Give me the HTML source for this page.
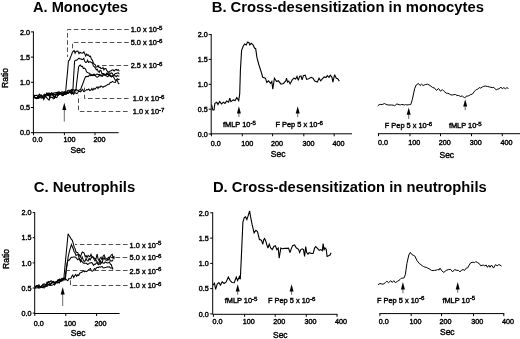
<!DOCTYPE html>
<html lang="en"><head><meta charset="utf-8"><title>Cross-desensitization figure</title>
<style>
html,body{margin:0;padding:0;background:#fff;}
body{width:520px;height:339px;overflow:hidden;font-family:"Liberation Sans",Arial,Helvetica,sans-serif;}
svg{display:block;}
</style></head><body>
<svg width="520" height="339" viewBox="0 0 520 339" font-family="Liberation Sans, Arial, Helvetica, sans-serif" fill="#000">
<text x="33.0" y="11.8" font-size="14.5" text-anchor="start" font-weight="bold" textLength="95" lengthAdjust="spacingAndGlyphs">A. Monocytes</text>
<line x1="33.4" y1="31.4" x2="33.4" y2="133.2" stroke="#000" stroke-width="1.0"/>
<line x1="30.9" y1="132.7" x2="33.4" y2="132.7" stroke="#000" stroke-width="1.0"/>
<text x="29.9" y="135.4" font-size="7.2" text-anchor="end" stroke="#000" stroke-width="0.4" >0.0</text>
<line x1="30.9" y1="107.5" x2="33.4" y2="107.5" stroke="#000" stroke-width="1.0"/>
<text x="29.9" y="110.2" font-size="7.2" text-anchor="end" stroke="#000" stroke-width="0.4" >0.5</text>
<line x1="30.9" y1="82.3" x2="33.4" y2="82.3" stroke="#000" stroke-width="1.0"/>
<text x="29.9" y="85.0" font-size="7.2" text-anchor="end" stroke="#000" stroke-width="0.4" >1.0</text>
<line x1="30.9" y1="57.1" x2="33.4" y2="57.1" stroke="#000" stroke-width="1.0"/>
<text x="29.9" y="59.8" font-size="7.2" text-anchor="end" stroke="#000" stroke-width="0.4" >1.5</text>
<line x1="30.9" y1="31.9" x2="33.4" y2="31.9" stroke="#000" stroke-width="1.0"/>
<text x="29.9" y="34.6" font-size="7.2" text-anchor="end" stroke="#000" stroke-width="0.4" >2.0</text>
<line x1="32.9" y1="132.7" x2="118.6" y2="132.7" stroke="#000" stroke-width="1.0"/>
<line x1="33.5" y1="132.7" x2="33.5" y2="135.2" stroke="#000" stroke-width="1.0"/>
<text x="37.4" y="142.0" font-size="7.2" text-anchor="middle" stroke="#000" stroke-width="0.4" >0.0</text>
<line x1="64.4" y1="132.7" x2="64.4" y2="135.2" stroke="#000" stroke-width="1.0"/>
<text x="69.5" y="142.0" font-size="7.2" text-anchor="middle" stroke="#000" stroke-width="0.4" >100</text>
<line x1="95.0" y1="132.7" x2="95.0" y2="135.2" stroke="#000" stroke-width="1.0"/>
<text x="99.6" y="142.0" font-size="7.2" text-anchor="middle" stroke="#000" stroke-width="0.4" >200</text>
<text x="77.9" y="152.9" font-size="8.5" text-anchor="middle" stroke="#000" stroke-width="0.4" >Sec</text>
<text transform="translate(8.4,78) rotate(-90)" font-size="8.5" text-anchor="middle" stroke="#000" stroke-width="0.4">Ratio</text>
<line x1="64.3" y1="109.6" x2="64.3" y2="121.6" stroke="#444" stroke-width="0.8"/>
<polygon points="64.3,102.7 62.3,110.1 66.3,110.1" fill="#000"/>
<polyline points="33.6,96.7 34.5,97.5 35.4,97.9 36.3,98.7 37.3,98.4 38.3,97.0 39.2,97.9 40.2,96.8 41.3,97.2 42.5,96.3 43.7,94.9 44.6,94.2 45.5,94.9 46.4,95.2 47.3,94.5 48.2,93.9 49.0,95.5 49.9,94.4 50.9,95.5 51.9,92.9 52.9,93.9 53.9,92.8 54.8,93.1 55.7,92.5 56.6,92.6 57.5,92.2 58.4,93.4 59.3,93.3 60.2,93.6 61.3,93.8 62.3,93.6 63.4,92.6 64.5,91.7 65.6,92.5 66.5,82.2 67.5,72.1 68.4,61.1 69.4,60.1 70.3,57.8 71.3,55.4 72.2,52.8 73.2,51.2 74.1,50.6 75.1,53.2 76.0,51.5 77.0,51.0 78.0,51.2 79.0,53.7 80.0,52.2 81.0,52.9 82.0,53.0 82.9,53.1 83.9,51.8 84.8,53.9 85.7,56.0 86.7,54.0 87.6,55.4 88.5,55.0 89.5,56.5 90.5,56.1 91.4,59.2 92.4,60.1 93.3,62.9 94.3,64.1 95.3,64.8 96.2,67.2 97.2,66.9 98.2,66.1 99.1,67.4 100.1,67.3 101.0,68.4 102.0,68.5 103.0,67.5 103.9,69.9 104.9,68.5 105.8,68.5 106.8,70.7 107.8,71.5 108.9,72.6 109.9,71.2 111.0,70.7 112.0,70.0 113.0,69.9 114.1,71.0 115.1,69.9 116.2,69.4 117.2,70.4 118.3,69.8 119.3,71.2" fill="none" stroke="#000" stroke-width="1.05" stroke-linejoin="miter" stroke-miterlimit="3"/>
<polyline points="33.6,95.6 34.7,95.3 35.9,95.4 37.0,95.2 37.9,97.0 38.8,96.8 39.6,97.3 40.5,97.8 41.5,98.1 42.5,97.2 43.5,98.0 44.6,96.3 45.7,95.0 46.8,93.1 47.9,95.5 49.0,95.4 50.1,97.8 51.2,97.5 52.2,97.2 53.3,98.9 54.2,98.4 55.1,97.4 56.0,94.6 56.9,94.4 57.8,94.9 58.7,94.7 59.7,92.4 60.6,93.6 61.5,93.9 62.4,93.1 63.4,94.4 64.5,92.3 65.6,92.6 66.7,92.4 67.8,90.6 68.9,90.1 69.9,90.9 70.9,90.0 71.8,89.5 72.8,91.2 73.7,75.8 74.6,61.1 75.7,60.2 76.8,60.2 77.9,59.1 79.0,58.2 80.0,59.0 80.9,58.9 81.9,59.6 82.8,59.2 83.8,58.4 84.7,61.3 85.7,62.4 86.6,62.3 87.6,60.2 88.6,62.4 89.5,61.8 90.5,61.8 91.4,62.7 92.4,62.7 93.4,66.2 94.3,66.6 95.3,67.8 96.3,69.7 97.2,69.3 98.2,71.5 99.2,72.4 100.1,70.3 101.1,70.8 102.0,73.8 103.0,73.6 104.0,73.7 105.0,74.9 106.1,73.9 107.1,72.8 108.1,73.8 109.1,74.5 110.1,73.6 111.2,72.9 112.2,73.2 113.2,74.9 114.2,75.0 115.2,73.5 116.2,73.4 117.3,73.0 118.3,72.8 119.3,74.3" fill="none" stroke="#000" stroke-width="1.05" stroke-linejoin="miter" stroke-miterlimit="3"/>
<polyline points="33.6,97.6 34.6,97.6 35.7,98.1 36.7,97.7 37.6,97.6 38.5,95.6 39.4,94.2 40.3,95.1 41.1,95.4 42.0,96.2 42.8,97.9 43.7,98.0 44.6,97.5 45.4,96.1 46.4,97.5 47.3,98.3 48.3,99.6 49.2,100.0 50.1,96.8 51.0,94.9 51.8,93.1 52.8,93.8 53.7,97.2 54.6,98.1 55.8,94.7 57.0,93.4 57.9,93.8 58.7,91.8 59.6,92.4 60.7,92.6 61.8,91.8 62.8,92.0 63.9,92.3 64.9,94.1 65.9,93.9 66.8,92.2 67.7,91.2 68.6,92.9 69.5,91.8 70.4,91.9 71.3,90.6 72.2,92.6 73.1,91.7 74.0,92.8 74.9,90.6 75.8,91.0 76.7,82.8 77.7,74.5 78.6,66.9 79.4,65.6 80.3,65.0 81.3,66.4 82.4,66.3 83.4,68.5 84.5,68.1 85.5,69.0 86.6,72.0 87.6,72.6 88.5,72.9 89.5,73.2 90.4,74.2 91.4,74.5 92.3,74.7 93.3,75.5 94.3,74.4 95.3,75.7 96.3,76.7 97.3,77.2 98.3,76.6 99.3,75.7 100.3,75.4 101.3,76.1 102.3,76.3 103.3,75.1 104.3,75.0 105.3,75.2 106.3,75.7 107.3,76.6 108.3,76.2 109.3,75.0 110.3,76.4 111.3,76.0 112.3,76.1 113.3,75.5 114.3,75.7 115.3,75.8 116.3,76.7 117.3,75.5 118.3,76.1 119.3,76.3" fill="none" stroke="#000" stroke-width="1.05" stroke-linejoin="miter" stroke-miterlimit="3"/>
<polyline points="33.6,97.6 34.5,97.0 35.5,98.0 36.4,98.5 37.4,98.0 38.3,98.3 39.2,96.1 40.2,95.9 41.0,96.0 41.9,96.4 42.8,97.4 43.7,99.5 44.9,97.3 46.1,94.2 47.1,93.1 48.0,93.7 49.0,92.9 50.0,93.6 51.1,93.3 52.3,94.0 53.4,94.8 54.6,96.6 55.7,97.3 56.8,97.6 58.0,95.1 59.1,94.0 60.2,93.8 61.1,92.7 62.1,94.6 63.1,94.1 64.2,94.5 65.4,94.1 66.5,92.3 67.5,93.4 68.6,93.3 69.6,92.2 70.6,93.0 71.5,92.2 72.5,90.3 73.6,89.6 74.7,90.5 75.8,89.5 76.7,89.7 77.7,90.4 78.6,90.2 79.6,89.8 80.5,89.9 81.5,87.0 82.6,84.3 83.6,81.5 84.7,78.4 85.7,76.5 86.7,76.6 87.6,76.4 88.5,76.5 89.5,74.8 90.5,75.6 91.5,75.3 92.5,75.7 93.5,74.3 94.5,75.3 95.5,75.0 96.5,74.2 97.5,74.0 98.5,74.9 99.5,74.4 100.5,74.9 101.5,75.5 102.5,75.1 103.5,74.3 104.5,75.0 105.5,74.6 106.5,74.5 107.5,74.4 108.5,74.8 109.5,74.2 110.5,75.6 111.5,77.0 112.5,75.8 113.5,77.0 114.4,78.6 115.4,80.4 116.4,79.9 117.4,80.7 118.3,83.1 119.3,84.0" fill="none" stroke="#000" stroke-width="1.05" stroke-linejoin="miter" stroke-miterlimit="3"/>
<polyline points="33.6,97.4 34.6,96.5 35.6,98.0 36.6,98.0 37.5,97.9 38.5,98.2 39.5,96.2 40.5,95.8 41.4,95.1 42.3,96.2 43.2,96.4 44.1,95.8 45.0,95.3 45.9,96.1 46.8,95.7 47.7,95.0 48.6,95.4 49.5,93.5 50.4,93.8 51.5,93.3 52.7,95.3 53.8,94.8 54.7,94.6 55.6,94.1 56.5,94.9 57.5,95.4 58.5,95.1 59.5,94.3 60.5,93.8 61.4,94.8 62.4,95.6 63.3,95.5 64.4,93.9 65.5,94.0 66.5,94.2 67.5,92.5 68.5,92.5 69.5,91.6 70.5,91.5 71.6,94.0 72.6,92.9 73.6,94.3 74.6,92.9 75.6,92.8 76.6,93.6 77.6,93.1 78.6,90.9 79.6,91.6 80.7,91.9 81.7,90.4 82.7,89.4 83.7,91.6 84.7,91.1 85.7,90.6 86.7,89.5 87.8,89.8 88.8,89.0 89.8,90.6 90.9,90.1 91.9,88.5 92.9,90.2 94.0,88.3 95.0,89.3 96.0,88.0 97.0,86.8 98.0,88.5 99.0,86.8 100.0,87.4 101.0,86.0 102.0,86.6 103.0,87.3 104.0,86.6 105.0,86.3 106.1,85.5 107.1,85.0 108.2,84.3 109.2,84.2 110.3,82.3 111.3,82.5 112.4,81.4 113.4,81.9 114.4,82.2 115.4,82.4 116.5,79.8 117.5,78.8 118.5,79.6 119.5,79.0" fill="none" stroke="#000" stroke-width="1.05" stroke-linejoin="miter" stroke-miterlimit="3"/>
<path d="M128.8 29.5 L67.5 29.5 L67.5 57.0" fill="none" stroke="#303030" stroke-width="0.85" stroke-dasharray="4.6 2.6"/>
<path d="M128.8 42.5 L72.5 42.5 L72.5 50.0" fill="none" stroke="#303030" stroke-width="0.85" stroke-dasharray="4.6 2.6"/>
<path d="M128.2 65.5 L97.0 65.5" fill="none" stroke="#303030" stroke-width="0.85" stroke-dasharray="4.6 2.6"/>
<path d="M128.6 98.5 L84.5 98.5 L84.5 85.5" fill="none" stroke="#303030" stroke-width="0.85" stroke-dasharray="4.6 2.6"/>
<path d="M127.6 111.5 L78.5 111.5 L78.5 95.5" fill="none" stroke="#303030" stroke-width="0.85" stroke-dasharray="4.6 2.6"/>
<text x="130.7" y="32.0" font-size="7.4" text-anchor="start" stroke="#000" stroke-width="0.4" >1.0 x 10<tspan dy="-2.2" font-size="6.1">-5</tspan></text>
<text x="130.7" y="45.2" font-size="7.4" text-anchor="start" stroke="#000" stroke-width="0.4" >5.0 x 10<tspan dy="-2.2" font-size="6.1">-6</tspan></text>
<text x="130.7" y="68.2" font-size="7.4" text-anchor="start" stroke="#000" stroke-width="0.4" >2.5 x 10<tspan dy="-2.2" font-size="6.1">-6</tspan></text>
<text x="132.8" y="100.9" font-size="7.4" text-anchor="start" stroke="#000" stroke-width="0.4" >1.0 x 10<tspan dy="-2.2" font-size="6.1">-6</tspan></text>
<text x="132.8" y="114.4" font-size="7.4" text-anchor="start" stroke="#000" stroke-width="0.4" >1.0 x 10<tspan dy="-2.2" font-size="6.1">-7</tspan></text>
<text x="33.7" y="192.0" font-size="14.5" text-anchor="start" font-weight="bold" textLength="101.5" lengthAdjust="spacingAndGlyphs">C. Neutrophils</text>
<line x1="34.7" y1="212.1" x2="34.7" y2="313.6" stroke="#000" stroke-width="1.0"/>
<line x1="32.7" y1="313.1" x2="34.7" y2="313.1" stroke="#000" stroke-width="1.0"/>
<text x="31.6" y="315.8" font-size="7.2" text-anchor="end" stroke="#000" stroke-width="0.4" >0.0</text>
<line x1="32.7" y1="288.0" x2="34.7" y2="288.0" stroke="#000" stroke-width="1.0"/>
<text x="31.6" y="290.7" font-size="7.2" text-anchor="end" stroke="#000" stroke-width="0.4" >0.5</text>
<line x1="32.7" y1="262.9" x2="34.7" y2="262.9" stroke="#000" stroke-width="1.0"/>
<text x="31.6" y="265.6" font-size="7.2" text-anchor="end" stroke="#000" stroke-width="0.4" >1.0</text>
<line x1="32.7" y1="237.7" x2="34.7" y2="237.7" stroke="#000" stroke-width="1.0"/>
<text x="31.6" y="240.4" font-size="7.2" text-anchor="end" stroke="#000" stroke-width="0.4" >1.5</text>
<line x1="32.7" y1="212.6" x2="34.7" y2="212.6" stroke="#000" stroke-width="1.0"/>
<text x="31.6" y="215.3" font-size="7.2" text-anchor="end" stroke="#000" stroke-width="0.4" >2.0</text>
<line x1="34.3" y1="313.5" x2="119.6" y2="313.5" stroke="#000" stroke-width="1.0"/>
<line x1="34.8" y1="313.5" x2="34.8" y2="316.0" stroke="#000" stroke-width="1.0"/>
<text x="38.7" y="325.5" font-size="7.2" text-anchor="middle" stroke="#000" stroke-width="0.4" >0.0</text>
<line x1="65.8" y1="313.5" x2="65.8" y2="316.0" stroke="#000" stroke-width="1.0"/>
<text x="69.9" y="325.5" font-size="7.2" text-anchor="middle" stroke="#000" stroke-width="0.4" >100</text>
<line x1="96.6" y1="313.5" x2="96.6" y2="316.0" stroke="#000" stroke-width="1.0"/>
<text x="100.4" y="325.5" font-size="7.2" text-anchor="middle" stroke="#000" stroke-width="0.4" >200</text>
<text x="78.2" y="335.7" font-size="8.5" text-anchor="middle" stroke="#000" stroke-width="0.4" >Sec</text>
<text transform="translate(9.2,259) rotate(-90)" font-size="8.5" text-anchor="middle" stroke="#000" stroke-width="0.4">Ratio</text>
<line x1="62.7" y1="293.9" x2="62.7" y2="306.0" stroke="#444" stroke-width="0.8"/>
<polygon points="62.7,287.0 60.7,294.4 64.7,294.4" fill="#000"/>
<polyline points="35.0,287.0 36.0,286.6 36.9,285.4 37.9,285.4 38.9,284.7 39.8,286.6 40.8,287.3 41.7,285.9 42.5,285.1 43.4,284.9 44.3,284.9 45.2,284.9 46.1,285.7 47.0,284.4 47.9,283.7 48.8,285.1 49.8,285.4 50.7,283.5 51.7,283.5 52.5,282.0 53.4,281.5 54.3,282.5 55.4,282.9 56.4,282.4 57.5,281.5 58.4,282.6 59.3,283.0 60.2,281.2 61.1,281.4 62.0,280.4 62.9,278.5 63.8,279.0 64.9,267.0 65.9,256.4 67.0,245.2 68.1,233.7 69.2,235.8 70.2,237.3 71.3,239.1 72.4,240.5 73.3,243.7 74.2,247.2 75.0,248.4 75.9,251.8 76.8,252.4 77.7,252.4 78.5,255.0 79.4,254.6 80.4,257.5 81.3,254.2 82.3,252.0 83.3,252.5 84.2,253.2 85.2,256.7 86.1,255.6 87.1,257.6 88.1,255.4 89.0,256.2 90.0,256.5 91.0,254.3 92.0,256.8 93.0,256.8 94.0,259.3 95.0,260.8 96.1,258.3 97.1,254.2 98.1,259.0 99.1,260.7 100.1,258.0 101.1,257.2 102.1,260.1 103.1,256.3 104.1,255.0 105.1,257.7 106.1,258.5 107.1,258.9 108.2,260.0 109.2,258.2 110.2,256.9 111.2,255.1 112.2,254.4 113.2,257.2" fill="none" stroke="#000" stroke-width="1.05" stroke-linejoin="miter" stroke-miterlimit="3"/>
<polyline points="35.0,288.6 36.1,286.6 37.3,285.7 38.4,286.6 39.3,286.1 40.2,287.1 41.1,286.8 42.1,285.3 43.1,284.3 44.1,283.8 45.1,284.5 46.0,284.2 47.0,282.2 47.9,282.6 48.9,281.5 49.9,282.0 51.0,280.6 52.1,281.4 53.2,281.7 54.2,282.0 55.3,282.5 56.2,281.8 57.2,283.0 58.1,280.7 59.1,281.1 60.0,279.1 61.0,280.7 61.9,279.5 62.9,279.0 63.8,278.1 64.8,278.8 65.7,272.8 66.5,267.2 67.4,262.1 68.3,256.0 69.3,251.9 70.4,247.9 71.4,244.6 72.3,246.7 73.2,248.8 74.1,251.8 75.0,252.7 76.0,255.4 77.1,254.8 78.1,254.7 79.1,258.0 80.2,260.4 81.2,259.2 82.2,257.1 83.2,259.8 84.2,261.5 85.2,260.9 86.1,258.4 87.1,260.7 88.1,261.1 89.1,258.4 90.1,259.9 91.1,258.1 92.1,256.6 93.1,257.6 94.1,258.0 95.1,258.5 96.0,260.1 97.0,261.7 98.0,262.9 99.0,263.5 100.0,259.8 101.0,263.3 102.0,262.7 103.0,259.6 104.1,257.8 105.1,259.7 106.1,259.9 107.1,260.7 108.1,257.7 109.1,257.1 110.2,261.1 111.2,260.7 112.2,261.0 113.2,259.5" fill="none" stroke="#000" stroke-width="1.05" stroke-linejoin="miter" stroke-miterlimit="3"/>
<polyline points="35.0,287.1 35.9,285.9 36.9,285.9 37.8,286.2 38.7,287.2 39.7,288.1 40.6,287.5 41.5,287.2 42.6,287.6 43.7,285.9 44.8,286.5 46.0,285.8 47.1,286.3 48.2,284.9 49.1,284.5 50.0,284.8 50.9,284.3 51.9,282.2 52.7,282.7 53.6,282.0 54.4,284.0 55.3,283.7 56.1,281.6 57.0,281.8 58.0,279.8 59.0,280.8 60.0,281.2 61.0,279.7 61.9,280.5 62.9,280.8 63.8,278.9 64.6,278.3 65.4,278.7 66.4,269.7 67.4,262.0 68.5,259.9 69.5,259.9 70.6,258.0 71.6,257.3 72.6,257.2 73.6,257.0 74.7,257.1 75.7,257.3 76.7,258.4 77.7,259.7 78.7,258.9 79.7,259.5 80.6,261.9 81.6,260.6 82.6,262.4 83.6,263.1 84.5,263.1 85.5,263.3 86.5,263.3 87.5,264.4 88.5,264.1 89.5,262.9 90.5,262.9 91.4,262.6 92.4,263.2 93.4,265.4 94.4,264.3 95.4,264.2 96.4,262.7 97.4,263.4 98.3,264.8 99.3,263.9 100.3,264.4 101.3,262.5 102.2,261.6 103.2,263.3 104.2,263.3 105.2,262.0 106.3,262.5 107.3,263.0 108.3,262.7 109.4,262.2 110.4,264.2 111.3,264.7 112.1,267.4 113.0,268.6" fill="none" stroke="#000" stroke-width="1.05" stroke-linejoin="miter" stroke-miterlimit="3"/>
<polyline points="35.0,287.7 35.8,287.8 36.7,288.0 37.5,287.5 38.4,288.0 39.3,286.4 40.1,286.3 41.1,286.7 42.1,287.5 43.1,286.4 44.0,287.9 44.8,286.3 45.7,286.8 46.6,285.5 47.4,283.9 48.2,281.8 49.4,283.0 50.6,285.4 51.7,285.3 52.7,285.1 53.6,284.2 54.6,285.0 55.5,283.3 56.4,282.8 57.3,280.8 58.1,280.1 59.1,279.3 60.1,279.4 61.0,279.3 62.0,278.2 63.0,279.4 64.0,279.6 65.0,280.2 65.9,279.2 66.9,280.2 67.8,280.7 68.8,278.6 69.8,278.7 70.8,278.6 71.8,276.3 72.8,275.0 73.7,277.5 74.7,275.7 75.7,274.5 76.7,276.2 77.7,274.8 78.7,275.5 79.7,273.2 80.6,272.8 81.6,272.2 82.6,271.8 83.6,270.6 84.5,271.7 85.5,271.1 86.5,271.6 87.5,270.9 88.5,269.9 89.5,269.1 90.5,268.5 91.4,270.9 92.4,271.2 93.4,270.5 94.4,268.6 95.4,269.5 96.4,267.9 97.4,267.3 98.3,267.7 99.3,266.8 100.3,267.1 101.3,266.8 102.2,266.5 103.2,267.9 104.2,267.7 105.3,267.4 106.3,267.2 107.4,266.7 108.4,266.9 109.5,266.8 110.4,268.0 111.2,268.0 112.1,268.0 113.0,269.5" fill="none" stroke="#000" stroke-width="1.05" stroke-linejoin="miter" stroke-miterlimit="3"/>
<path d="M127.6 244.5 L75.0 244.5" fill="none" stroke="#303030" stroke-width="0.85" stroke-dasharray="4.6 2.6"/>
<path d="M127.3 257.5 L113.5 257.5" fill="none" stroke="#303030" stroke-width="0.85" stroke-dasharray="4.6 2.6"/>
<polygon points="110.5,257.5 114.5,255.7 114.5,259.3" fill="#000"/>
<path d="M127.6 270.5 L67.0 270.5" fill="none" stroke="#303030" stroke-width="0.85" stroke-dasharray="4.6 2.6"/>
<path d="M127.6 285.5 L70.5 285.5 L70.5 279.5" fill="none" stroke="#303030" stroke-width="0.85" stroke-dasharray="4.6 2.6"/>
<text x="129.6" y="247.5" font-size="7.4" text-anchor="start" stroke="#000" stroke-width="0.4" >1.0 x 10<tspan dy="-2.2" font-size="6.1">-5</tspan></text>
<text x="129.6" y="260.2" font-size="7.4" text-anchor="start" stroke="#000" stroke-width="0.4" >5.0 x 10<tspan dy="-2.2" font-size="6.1">-6</tspan></text>
<text x="129.6" y="273.5" font-size="7.4" text-anchor="start" stroke="#000" stroke-width="0.4" >2.5 x 10<tspan dy="-2.2" font-size="6.1">-6</tspan></text>
<text x="129.6" y="288.2" font-size="7.4" text-anchor="start" stroke="#000" stroke-width="0.4" >1.0 x 10<tspan dy="-2.2" font-size="6.1">-6</tspan></text>
<text x="211.7" y="12.3" font-size="14.5" text-anchor="start" font-weight="bold" textLength="272.3" lengthAdjust="spacingAndGlyphs">B. Cross-desensitization in monocytes</text>
<line x1="211.2" y1="34.1" x2="211.2" y2="134.5" stroke="#000" stroke-width="1.0"/>
<line x1="208.7" y1="134.0" x2="211.2" y2="134.0" stroke="#000" stroke-width="1.0"/>
<text x="207.7" y="136.7" font-size="7.2" text-anchor="end" stroke="#000" stroke-width="0.4" >0.0</text>
<line x1="208.7" y1="109.2" x2="211.2" y2="109.2" stroke="#000" stroke-width="1.0"/>
<text x="207.7" y="111.9" font-size="7.2" text-anchor="end" stroke="#000" stroke-width="0.4" >0.5</text>
<line x1="208.7" y1="84.3" x2="211.2" y2="84.3" stroke="#000" stroke-width="1.0"/>
<text x="207.7" y="87.0" font-size="7.2" text-anchor="end" stroke="#000" stroke-width="0.4" >1.0</text>
<line x1="208.7" y1="59.4" x2="211.2" y2="59.4" stroke="#000" stroke-width="1.0"/>
<text x="207.7" y="62.1" font-size="7.2" text-anchor="end" stroke="#000" stroke-width="0.4" >1.5</text>
<line x1="208.7" y1="34.6" x2="211.2" y2="34.6" stroke="#000" stroke-width="1.0"/>
<text x="207.7" y="37.3" font-size="7.2" text-anchor="end" stroke="#000" stroke-width="0.4" >2.0</text>
<line x1="210.9" y1="133.8" x2="352.0" y2="133.8" stroke="#000" stroke-width="1.0"/>
<line x1="211.4" y1="133.8" x2="211.4" y2="136.3" stroke="#000" stroke-width="1.0"/>
<text x="215.8" y="145.6" font-size="7.2" text-anchor="middle" stroke="#000" stroke-width="0.4" >0.0</text>
<line x1="242.3" y1="133.8" x2="242.3" y2="136.3" stroke="#000" stroke-width="1.0"/>
<text x="247.3" y="145.6" font-size="7.2" text-anchor="middle" stroke="#000" stroke-width="0.4" >100</text>
<line x1="272.6" y1="133.8" x2="272.6" y2="136.3" stroke="#000" stroke-width="1.0"/>
<text x="277.0" y="145.6" font-size="7.2" text-anchor="middle" stroke="#000" stroke-width="0.4" >200</text>
<line x1="303.8" y1="133.8" x2="303.8" y2="136.3" stroke="#000" stroke-width="1.0"/>
<text x="308.5" y="145.6" font-size="7.2" text-anchor="middle" stroke="#000" stroke-width="0.4" >300</text>
<line x1="334.2" y1="133.8" x2="334.2" y2="136.3" stroke="#000" stroke-width="1.0"/>
<text x="338.5" y="145.6" font-size="7.2" text-anchor="middle" stroke="#000" stroke-width="0.4" >400</text>
<text x="278.2" y="156.8" font-size="8.5" text-anchor="middle" stroke="#000" stroke-width="0.4" >Sec</text>
<line x1="238.9" y1="113.1" x2="238.9" y2="117.0" stroke="#444" stroke-width="0.8"/>
<polygon points="238.9,106.2 236.9,113.6 240.9,113.6" fill="#000"/>
<line x1="297.7" y1="113.1" x2="297.7" y2="117.2" stroke="#444" stroke-width="0.8"/>
<polygon points="297.7,106.2 295.7,113.6 299.7,113.6" fill="#000"/>
<text x="223.0" y="127.1" font-size="7.4" text-anchor="start" stroke="#000" stroke-width="0.4" >fMLP 10<tspan dy="-2.2" font-size="6.1">-5</tspan></text>
<text x="275.5" y="127.1" font-size="7.4" text-anchor="start" stroke="#000" stroke-width="0.4" >F Pep 5 x 10<tspan dy="-2.2" font-size="6.1">-6</tspan></text>
<polyline points="211.6,104.6 212.8,110.0 214.0,110.0 214.9,103.4 216.8,102.2 218.0,104.6 219.6,101.5 221.5,103.9 223.4,102.2 225.0,103.4 226.7,101.0 228.6,102.2 229.8,98.2 230.9,101.7 233.3,99.9 235.2,100.6 236.8,97.5 238.7,100.6 239.7,94.0 240.4,70.4 241.6,50.3 243.2,46.3 244.6,44.0 246.3,44.9 247.5,42.1 248.9,42.5 249.8,44.9 251.2,43.3 253.1,44.9 254.5,48.0 255.7,48.7 256.9,57.4 258.8,64.5 261.1,71.6 262.8,77.5 262.8,77.3 265.4,78.2 266.8,82.5 268.5,80.8 270.6,83.4 271.8,81.6 272.8,89.1 274.4,78.2 276.6,81.6 278.4,80.8 281.0,84.2 283.5,83.4 285.8,80.8 286.5,78.2 287.5,82.1 288.7,81.1 290.1,83.9 292.2,79.9 293.9,78.2 295.7,79.0 297.0,76.4 298.3,80.4 299.6,76.4 301.0,75.9 302.1,79.9 303.4,75.6 305.2,75.2 306.6,79.4 308.6,78.7 311.2,77.3 313.0,78.2 314.7,81.1 317.3,82.1 319.0,78.2 320.7,80.8 322.5,78.7 324.2,77.0 325.9,77.6 327.3,75.6 329.0,77.3 330.3,75.2 332.0,77.3 332.9,82.1 334.6,74.7 336.3,78.2 337.7,78.7 339.3,81.1" fill="none" stroke="#000" stroke-width="1.1" stroke-linejoin="miter" stroke-miterlimit="3"/>
<line x1="378.0" y1="133.7" x2="520.0" y2="133.7" stroke="#000" stroke-width="1.0"/>
<line x1="378.5" y1="133.7" x2="378.5" y2="136.2" stroke="#000" stroke-width="1.0"/>
<text x="383.1" y="145.4" font-size="7.2" text-anchor="middle" stroke="#000" stroke-width="0.4" >0.0</text>
<line x1="410.0" y1="133.7" x2="410.0" y2="136.2" stroke="#000" stroke-width="1.0"/>
<text x="414.2" y="145.4" font-size="7.2" text-anchor="middle" stroke="#000" stroke-width="0.4" >100</text>
<line x1="440.5" y1="133.7" x2="440.5" y2="136.2" stroke="#000" stroke-width="1.0"/>
<text x="444.7" y="145.4" font-size="7.2" text-anchor="middle" stroke="#000" stroke-width="0.4" >200</text>
<line x1="471.5" y1="133.7" x2="471.5" y2="136.2" stroke="#000" stroke-width="1.0"/>
<text x="475.7" y="145.4" font-size="7.2" text-anchor="middle" stroke="#000" stroke-width="0.4" >300</text>
<line x1="502.3" y1="133.7" x2="502.3" y2="136.2" stroke="#000" stroke-width="1.0"/>
<text x="506.5" y="145.4" font-size="7.2" text-anchor="middle" stroke="#000" stroke-width="0.4" >400</text>
<text x="446.8" y="157.6" font-size="8.5" text-anchor="middle" stroke="#000" stroke-width="0.4" >Sec</text>
<line x1="408.7" y1="114.3" x2="408.7" y2="118.9" stroke="#444" stroke-width="0.8"/>
<polygon points="408.7,107.4 406.7,114.8 410.7,114.8" fill="#000"/>
<line x1="465.2" y1="106.1" x2="465.2" y2="110.2" stroke="#444" stroke-width="0.8"/>
<polygon points="465.2,99.2 463.2,106.6 467.2,106.6" fill="#000"/>
<text x="384.8" y="127.7" font-size="7.4" text-anchor="start" stroke="#000" stroke-width="0.4" >F Pep 5 x 10<tspan dy="-2.2" font-size="6.1">-6</tspan></text>
<text x="448.9" y="127.7" font-size="7.4" text-anchor="start" stroke="#000" stroke-width="0.4" >fMLP 10<tspan dy="-2.2" font-size="6.1">-5</tspan></text>
<polyline points="377.7,105.8 379.2,104.7 380.8,104.4 382.3,104.5 384.6,103.5 386.2,104.5 388.5,105.0 390.0,105.0 391.5,105.0 393.1,105.1 394.6,105.8 396.9,103.9 399.2,104.7 400.5,104.9 401.8,104.4 403.1,104.7 404.4,105.0 405.6,104.5 406.9,105.0 408.2,104.8 409.5,104.6 410.8,104.5 412.3,99.6 414.6,88.8 416.2,85.0 418.5,83.5 420.0,85.5 421.5,84.2 423.1,85.5 425.4,84.5 427.7,84.2 430.0,85.5 432.3,87.3 434.6,88.1 436.5,90.4 438.5,88.5 440.5,91.2 442.3,89.6 443.6,90.9 444.9,92.0 446.2,93.2 447.7,93.3 449.2,93.8 450.8,94.8 452.3,95.0 453.8,94.7 455.4,94.5 456.9,95.4 458.5,95.5 460.8,96.5 462.3,95.8 464.6,98.1 466.2,96.2 467.7,96.1 469.2,95.5 470.8,94.5 472.3,94.2 474.6,91.2 476.2,89.6 477.7,89.2 479.2,87.6 480.8,88.1 482.3,87.0 483.8,86.3 485.4,86.1 487.7,86.5 489.2,86.9 490.8,87.3 492.3,87.6 493.8,87.3 496.2,89.9 497.7,89.1 499.2,88.8 500.8,87.0 502.3,88.8 503.8,87.6 505.4,88.8 506.9,87.6 508.5,88.5" fill="none" stroke="#000" stroke-width="1.0" stroke-linejoin="miter" stroke-miterlimit="3"/>
<text x="212.9" y="192.0" font-size="14.5" text-anchor="start" font-weight="bold" textLength="273.9" lengthAdjust="spacingAndGlyphs">D. Cross-desensitization in neutrophils</text>
<line x1="212.7" y1="212.3" x2="212.7" y2="314.4" stroke="#000" stroke-width="1.0"/>
<line x1="210.2" y1="313.9" x2="212.7" y2="313.9" stroke="#000" stroke-width="1.0"/>
<text x="208.7" y="316.6" font-size="7.2" text-anchor="end" stroke="#000" stroke-width="0.4" >0.0</text>
<line x1="210.2" y1="288.6" x2="212.7" y2="288.6" stroke="#000" stroke-width="1.0"/>
<text x="208.7" y="291.3" font-size="7.2" text-anchor="end" stroke="#000" stroke-width="0.4" >0.5</text>
<line x1="210.2" y1="263.4" x2="212.7" y2="263.4" stroke="#000" stroke-width="1.0"/>
<text x="208.7" y="266.1" font-size="7.2" text-anchor="end" stroke="#000" stroke-width="0.4" >1.0</text>
<line x1="210.2" y1="238.1" x2="212.7" y2="238.1" stroke="#000" stroke-width="1.0"/>
<text x="208.7" y="240.8" font-size="7.2" text-anchor="end" stroke="#000" stroke-width="0.4" >1.5</text>
<line x1="210.2" y1="212.8" x2="212.7" y2="212.8" stroke="#000" stroke-width="1.0"/>
<text x="208.7" y="215.5" font-size="7.2" text-anchor="end" stroke="#000" stroke-width="0.4" >2.0</text>
<line x1="212.9" y1="314.3" x2="337.5" y2="314.3" stroke="#000" stroke-width="1.0"/>
<line x1="213.4" y1="314.3" x2="213.4" y2="316.8" stroke="#000" stroke-width="1.0"/>
<text x="217.5" y="324.4" font-size="7.2" text-anchor="middle" stroke="#000" stroke-width="0.4" >0.0</text>
<line x1="244.6" y1="314.3" x2="244.6" y2="316.8" stroke="#000" stroke-width="1.0"/>
<text x="248.8" y="324.4" font-size="7.2" text-anchor="middle" stroke="#000" stroke-width="0.4" >100</text>
<line x1="275.2" y1="314.3" x2="275.2" y2="316.8" stroke="#000" stroke-width="1.0"/>
<text x="279.3" y="324.4" font-size="7.2" text-anchor="middle" stroke="#000" stroke-width="0.4" >200</text>
<line x1="306.3" y1="314.3" x2="306.3" y2="316.8" stroke="#000" stroke-width="1.0"/>
<text x="310.4" y="324.4" font-size="7.2" text-anchor="middle" stroke="#000" stroke-width="0.4" >300</text>
<line x1="337.0" y1="314.3" x2="337.0" y2="316.8" stroke="#000" stroke-width="1.0"/>
<text x="341.0" y="324.4" font-size="7.2" text-anchor="middle" stroke="#000" stroke-width="0.4" >400</text>
<text x="280.3" y="338.0" font-size="8.5" text-anchor="middle" stroke="#000" stroke-width="0.4" >Sec</text>
<line x1="237.7" y1="291.1" x2="237.7" y2="294.8" stroke="#444" stroke-width="0.8"/>
<polygon points="237.7,284.2 235.7,291.6 239.7,291.6" fill="#000"/>
<line x1="291.6" y1="291.1" x2="291.6" y2="294.8" stroke="#444" stroke-width="0.8"/>
<polygon points="291.6,284.2 289.6,291.6 293.6,291.6" fill="#000"/>
<text x="224.7" y="303.0" font-size="7.4" text-anchor="start" stroke="#000" stroke-width="0.4" >fMLP 10<tspan dy="-2.2" font-size="6.1">-5</tspan></text>
<text x="268.0" y="303.0" font-size="7.4" text-anchor="start" stroke="#000" stroke-width="0.4" >F Pep 5 x 10<tspan dy="-2.2" font-size="6.1">-6</tspan></text>
<polyline points="213.0,285.1 214.5,283.2 215.6,289.4 217.2,284.0 218.8,282.5 220.4,285.1 222.2,281.9 224.1,283.5 226.2,281.9 228.3,277.1 230.2,280.6 232.1,282.5 234.2,282.7 236.3,277.1 237.6,280.6 239.5,276.6 240.3,279.3 241.3,258.1 242.9,222.2 244.3,217.7 245.6,216.9 246.9,219.6 248.2,215.6 249.6,210.8 250.6,216.9 252.2,224.9 254.1,232.9 255.9,230.2 257.5,231.5 259.4,239.5 260.0,239.6 261.5,240.4 262.8,244.2 263.8,239.6 264.6,238.5 265.8,241.2 266.9,245.0 268.0,248.1 269.2,244.2 270.8,248.1 272.3,249.6 273.8,246.5 275.4,245.8 276.9,249.6 278.2,248.1 279.2,258.1 280.8,248.1 282.3,248.8 284.6,248.4 286.9,248.4 288.5,248.1 290.0,252.7 291.5,248.1 292.6,245.8 294.6,245.0 296.2,247.8 298.5,249.3 299.7,252.4 300.8,249.6 302.3,248.8 303.5,249.6 304.6,256.5 305.7,246.5 306.6,252.4 308.0,254.2 309.2,252.7 311.5,253.5 313.1,253.5 314.6,248.1 315.7,246.5 317.2,248.1 319.2,250.4 320.8,249.6 322.3,250.8 323.1,243.5 324.0,250.4 324.9,247.8 326.2,249.3 327.1,256.5 328.5,255.8 330.0,255.0 331.1,252.7" fill="none" stroke="#000" stroke-width="1.1" stroke-linejoin="miter" stroke-miterlimit="3"/>
<line x1="379.4" y1="313.6" x2="504.3" y2="313.6" stroke="#000" stroke-width="1.0"/>
<line x1="379.9" y1="313.6" x2="379.9" y2="316.1" stroke="#000" stroke-width="1.0"/>
<text x="383.8" y="323.6" font-size="7.2" text-anchor="middle" stroke="#000" stroke-width="0.4" >0.0</text>
<line x1="411.2" y1="313.6" x2="411.2" y2="316.1" stroke="#000" stroke-width="1.0"/>
<text x="415.4" y="323.6" font-size="7.2" text-anchor="middle" stroke="#000" stroke-width="0.4" >100</text>
<line x1="441.5" y1="313.6" x2="441.5" y2="316.1" stroke="#000" stroke-width="1.0"/>
<text x="445.5" y="323.6" font-size="7.2" text-anchor="middle" stroke="#000" stroke-width="0.4" >200</text>
<line x1="473.5" y1="313.6" x2="473.5" y2="316.1" stroke="#000" stroke-width="1.0"/>
<text x="477.3" y="323.6" font-size="7.2" text-anchor="middle" stroke="#000" stroke-width="0.4" >300</text>
<line x1="503.8" y1="313.6" x2="503.8" y2="316.1" stroke="#000" stroke-width="1.0"/>
<text x="507.9" y="323.6" font-size="7.2" text-anchor="middle" stroke="#000" stroke-width="0.4" >400</text>
<text x="447.3" y="335.2" font-size="8.5" text-anchor="middle" stroke="#000" stroke-width="0.4" >Sec</text>
<line x1="402.9" y1="289.0" x2="402.9" y2="293.3" stroke="#444" stroke-width="0.8"/>
<polygon points="402.9,282.1 400.9,289.5 404.9,289.5" fill="#000"/>
<line x1="457.7" y1="289.0" x2="457.7" y2="292.7" stroke="#444" stroke-width="0.8"/>
<polygon points="457.7,282.1 455.7,289.5 459.7,289.5" fill="#000"/>
<text x="377.0" y="302.5" font-size="7.4" text-anchor="start" stroke="#000" stroke-width="0.4" >F Pep 5 x 10<tspan dy="-2.2" font-size="6.1">-6</tspan></text>
<text x="442.4" y="302.5" font-size="7.4" text-anchor="start" stroke="#000" stroke-width="0.4" >fMLP 10<tspan dy="-2.2" font-size="6.1">-5</tspan></text>
<polyline points="378.0,284.7 380.0,283.5 381.5,283.9 383.1,284.2 385.4,282.7 386.9,281.2 388.5,282.7 390.8,280.7 392.3,282.4 393.8,280.7 395.4,282.7 397.7,281.2 400.0,279.6 401.5,278.1 402.8,278.2 404.2,277.8 405.4,274.2 406.9,263.5 408.8,255.0 410.3,252.4 411.8,254.5 413.8,255.5 414.9,256.1 416.9,260.4 419.2,263.5 420.8,264.6 422.3,265.8 423.6,266.5 424.9,267.1 426.2,267.3 427.7,268.1 429.2,268.8 431.5,270.4 433.1,270.6 434.6,270.4 436.2,270.2 437.7,269.6 439.2,269.9 440.0,268.1 441.8,270.8 443.8,272.4 446.2,270.4 448.5,269.6 450.5,269.3 452.6,271.9 454.6,269.6 456.9,270.4 458.5,270.4 460.0,271.9 461.8,269.9 463.1,269.6 464.6,270.4 466.2,268.1 467.7,267.8 469.2,265.0 470.8,262.7 473.1,262.2 474.6,262.7 475.7,261.6 477.7,262.7 479.2,263.5 480.8,265.8 483.1,265.0 484.6,265.8 486.2,265.0 487.4,267.3 488.9,265.3 490.0,267.3 491.5,265.0 493.5,268.1 495.4,264.7 497.2,265.8 498.5,264.7 500.0,265.0 501.5,266.2" fill="none" stroke="#000" stroke-width="1.0" stroke-linejoin="miter" stroke-miterlimit="3"/>
</svg>
</body></html>
